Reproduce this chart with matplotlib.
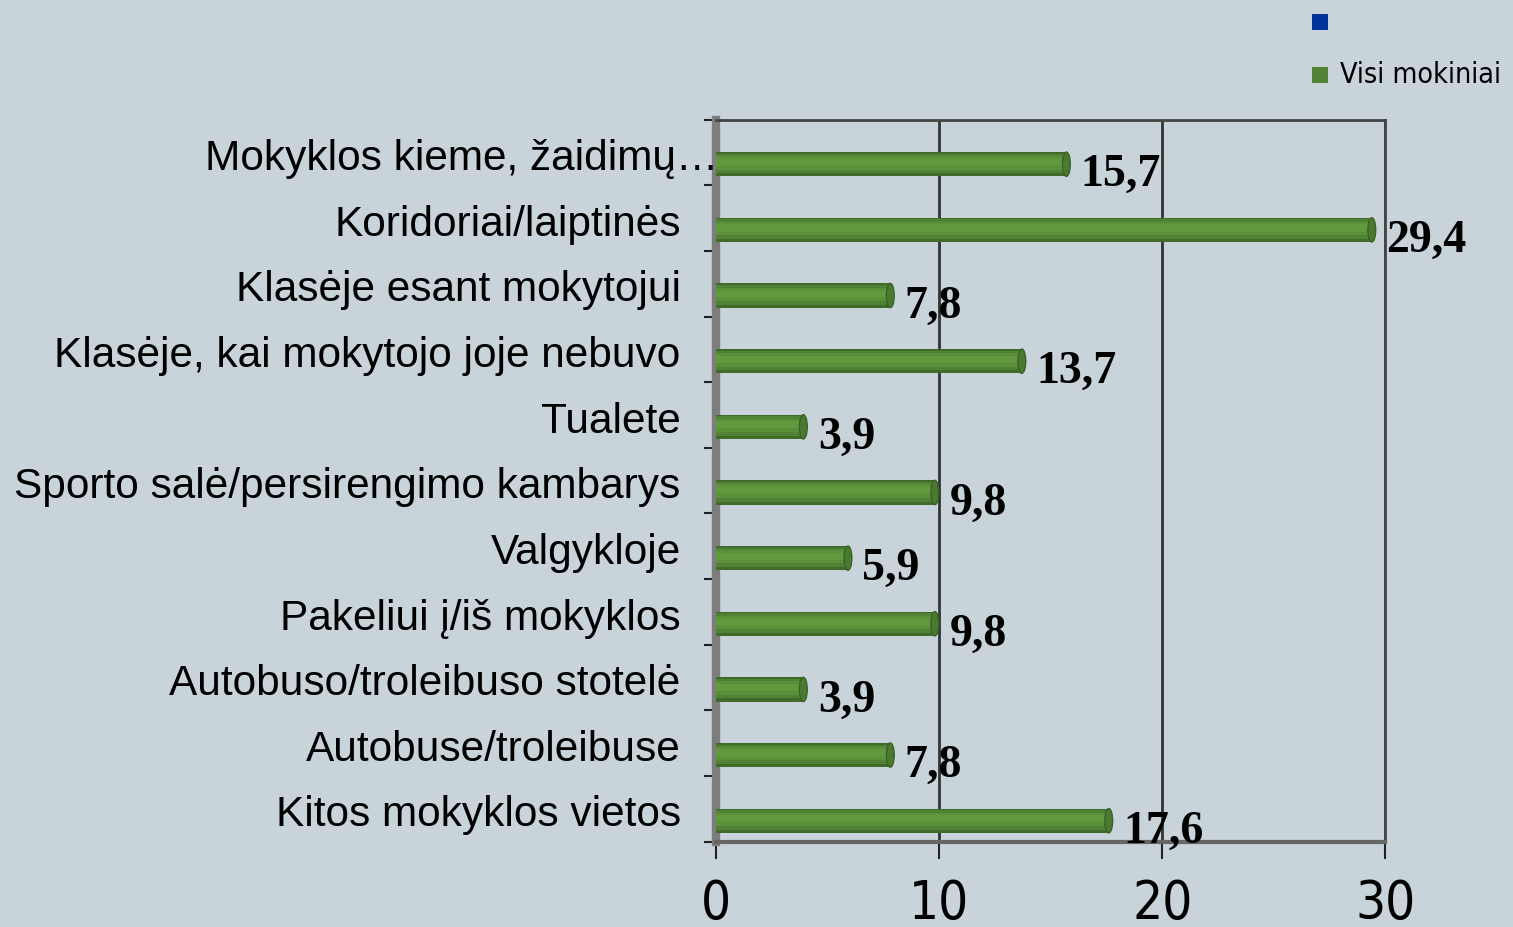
import numpy as np
import matplotlib.pyplot as plt
from matplotlib.patches import Rectangle, Ellipse

# Data
categories = [
    'Mokyklos kieme, žaidimų…',
    'Koridoriai/laiptinės',
    'Klasėje esant mokytojui',
    'Klasėje, kai mokytojo joje nebuvo',
    'Tualete',
    'Sporto salė/persirengimo kambarys',
    'Valgykloje',
    'Pakeliui į/iš mokyklos',
    'Autobuso/troleibuso stotelė',
    'Autobuse/troleibuse',
    'Kitos mokyklos vietos',
]
values = [15.7, 29.4, 7.8, 13.7, 3.9, 9.8, 5.9, 9.8, 3.9, 7.8, 17.6]
value_labels = ['15,7', '29,4', '7,8', '13,7', '3,9', '9,8', '5,9', '9,8', '3,9', '7,8', '17,6']
xticks = [0, 10, 20, 30]
legend_labels = ['', 'Visi mokiniai']
legend_colors = ['#003399', '#538135']

bg = '#c8d3da'
narrow = dict(family='DejaVu Sans', stretch='condensed')

fig = plt.figure(figsize=(15.13, 9.27), dpi=100)
fig.patch.set_facecolor(bg)
ax = fig.add_axes([0.4735, 0.092, 0.442, 0.779])
ax.set_facecolor(bg)

y = np.arange(len(categories))
yb = y + 0.18   # bars sit a bit lower (3D depth look)
h = 0.37

# cylinder-ish bars built from stacked layers
ax.barh(yb, values, height=h, color='#3f6a29', linewidth=0, zorder=3)
ax.barh(yb - 0.01, values, height=h * 0.8, color='#4f8234', linewidth=0, zorder=4)
ax.barh(yb - 0.02, values, height=h * 0.55, color='#5a9039', linewidth=0, zorder=5)
ax.barh(yb - 0.03, values, height=h * 0.3, color='#62993f', linewidth=0, zorder=6)
for v, yy in zip(values, yb):
    ax.add_patch(Ellipse((v, yy), 0.35, h, facecolor='#4a7a30',
                         edgecolor='#3a6226', lw=1, zorder=7))

for i, (v, lab) in enumerate(zip(values, value_labels)):
    ax.text(v + 0.65, i + 0.35, lab, ha='left', va='center', fontsize=33,
            fontweight='bold', family='Liberation Serif', color='black', zorder=8)

for i, cat in enumerate(categories):
    xpos = 0.08 if i == 0 else -1.6
    ax.text(xpos, i + 0.1, cat, ha='right', va='center', fontsize=30.5,
            family='Liberation Sans', color='black', clip_on=False)

ax.set_xlim(0, 30)
ax.set_ylim(len(categories) - 0.5, -0.5)

ax.set_xticks(xticks)
ax.set_xticklabels([str(t) for t in xticks], fontsize=38, **narrow)
ax.tick_params(axis='x', length=12, width=1.5, pad=14, color='#222222')
ax.set_yticks(np.arange(len(categories) + 1) - 0.5)
ax.set_yticklabels([])
ax.tick_params(axis='y', length=9, width=1.5, color='#222222')

for t in xticks[1:]:
    ax.axvline(t, color='#333333', lw=2, zorder=1)

for side in ['top', 'right']:
    ax.spines[side].set_color('#444444')
    ax.spines[side].set_linewidth(2)
ax.spines['left'].set_color('#7d7d7d')
ax.spines['left'].set_linewidth(6)
ax.spines['bottom'].set_color('#666666')
ax.spines['bottom'].set_linewidth(3)

# legend (top right)
leg_y = [0.9676, 0.9105]
for lab, col, ly in zip(legend_labels, legend_colors, leg_y):
    fig.add_artist(Rectangle((0.867, ly), 0.0106, 0.0173, transform=fig.transFigure,
                             facecolor=col, edgecolor='none'))
    fig.text(0.8855, ly + 0.0086, lab, ha='left', va='center', fontsize=20.5, **narrow)

fig.savefig('out.png', dpi=100, facecolor=bg)
